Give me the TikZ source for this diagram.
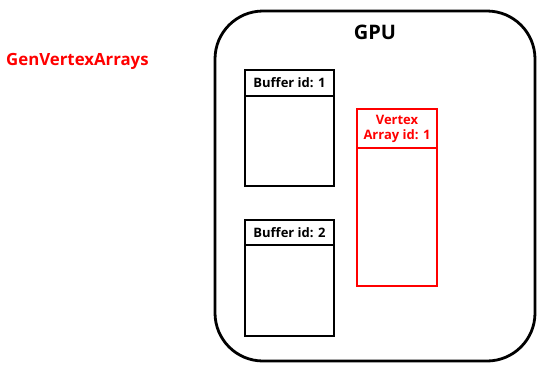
\documentclass[tikz,border=0pt]{standalone}
\usepackage{fontspec}
\setmainfont{Open Sans}[BoldFont={* Bold}]
\begin{document}
\begin{tikzpicture}[x=1pt,y=-1pt,
  box/.style={draw=black,line width=2pt},
  redbox/.style={draw=red,line width=2pt},
  lbl/.style={font=\bfseries\fontsize{13}{15}\selectfont,inner sep=0pt},
]
\useasboundingbox (0,0) rectangle (553,368);
% GPU
\draw[line width=2.8pt,rounded corners=48pt] (215,11) rectangle (535,361);
\node[font=\bfseries\fontsize{20}{22}\selectfont,inner sep=0pt] (gpu) at (375,32) {GPU};
% title
\node[font=\bfseries\fontsize{16.8}{18}\selectfont,text=red,inner sep=0pt,anchor=west] (gen) at (6,61) {GenVertexArrays};
% buffer 1
\draw[box] (245,70) rectangle (334,186);
\draw[box] (245,96) -- (334,96);
\node[lbl] (b1) at (289.5,83) {Buffer id: 1};
% buffer 2
\draw[box] (245,220) rectangle (334,336);
\draw[box] (245,245) -- (334,245);
\node[lbl] (b2) at (289.5,232.5) {Buffer id: 2};
% vertex array
\draw[redbox] (357,109) rectangle (437,286);
\draw[redbox] (357,148) -- (437,148);
\node[lbl,text=red,align=center] (va) at (397,129) {Vertex\\[-0.5pt]Array id: 1};
\end{tikzpicture}
\end{document}
